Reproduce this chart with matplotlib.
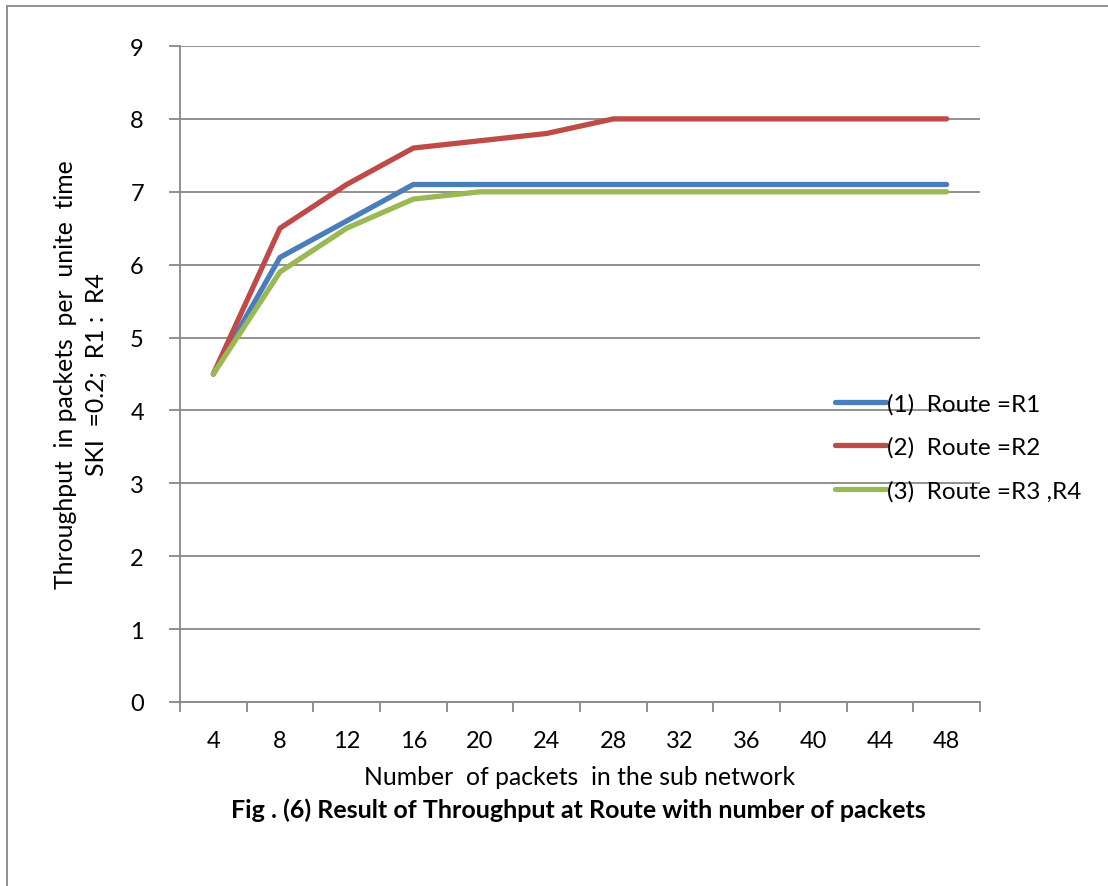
import numpy as np
import matplotlib
matplotlib.use('Agg')
from matplotlib import pyplot as plt
from matplotlib.patches import Rectangle

plt.rcParams['font.family'] = ['Lato', 'DejaVu Sans']

# data
packets = [4, 8, 12, 16, 20, 24, 28, 32, 36, 40, 44, 48]
route_r1 = [4.5, 6.1, 6.6, 7.1, 7.1, 7.1, 7.1, 7.1, 7.1, 7.1, 7.1, 7.1]
route_r2 = [4.5, 6.5, 7.1, 7.6, 7.7, 7.8, 8.0, 8.0, 8.0, 8.0, 8.0, 8.0]
route_r34 = [4.5, 5.9, 6.5, 6.9, 7.0, 7.0, 7.0, 7.0, 7.0, 7.0, 7.0, 7.0]
labels = ['(1)  Route =R1', '(2)  Route =R2', '(3)  Route =R3 ,R4']
colors = ['#4A7EBB', '#BE4B48', '#98B954']

W, H = 1108, 887
fs = 17
fig = plt.figure(figsize=(W / 100, H / 100), dpi=100)
ax = fig.add_axes([180 / W, 1 - 703 / H, 800 / W, 656 / H])

x = np.arange(len(packets))
for ys, lab, c in zip([route_r1, route_r2, route_r34], labels, colors):
    ax.plot(x, ys, color=c, lw=3.8, label=lab, solid_capstyle='round', solid_joinstyle='round')

gray = '#888888'
ax.set_xlim(-0.5, len(packets) - 0.5)
ax.set_ylim(0, 9)
ax.set_yticks(range(10))
ax.yaxis.grid(True, color=gray, lw=1.3)
ax.set_axisbelow(True)
ax.set_xticks(x)
ax.set_xticklabels([str(p) for p in packets])
ax.set_xticks(np.arange(-0.5, len(packets)), minor=True)
ax.tick_params(axis='x', which='major', length=0, pad=20, labelsize=fs)
ax.tick_params(axis='x', which='minor', length=7, color=gray, width=1.3, direction='out')
ax.tick_params(axis='y', length=8, color=gray, width=1.3, pad=18, labelsize=fs)
for s in ['top', 'right']:
    ax.spines[s].set_visible(False)
for s in ['left', 'bottom']:
    ax.spines[s].set_color(gray)
    ax.spines[s].set_linewidth(1.3)

ax.set_ylabel('Throughput  in packets  per  unite  time\nSKI  =0.2;  R1 :  R4', fontsize=17.8,
              labelpad=16, linespacing=1.4)
ax.set_xlabel('Number  of packets  in the sub network', fontsize=17.8, labelpad=10)
fig.text(578 / W, 1 - 810 / H, 'Fig . (6) Result of Throughput at Route with number of packets',
         ha='center', va='center', fontsize=18, fontweight='bold')

leg = ax.legend(loc='center left', bbox_to_anchor=(835 / W, 1 - 448 / H), bbox_transform=fig.transFigure,
                frameon=False, fontsize=17.5, handlelength=2.1, handletextpad=0.05, labelspacing=0.9,
                borderpad=0, borderaxespad=0)

fig.patches.append(Rectangle((7 / W, -0.05), 1.1, 1 - 7 / H + 0.05, transform=fig.transFigure,
                             fill=False, edgecolor=gray, lw=1.3))

fig.savefig('out.png', dpi=100)
